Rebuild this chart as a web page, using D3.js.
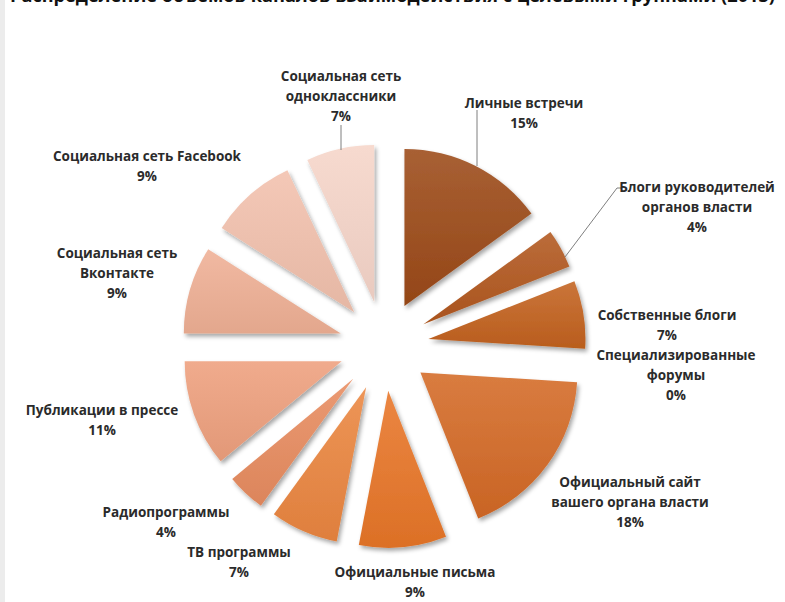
<!DOCTYPE html>
<html>
<head>
<meta charset="utf-8">
<script src="https://cdn.jsdelivr.net/npm/d3@7"></script>
<style>
  body { margin: 0; background: #fff; }
  #chart { width: 785px; height: 602px; }
  text { font-family: "Open Sans", "DejaVu Sans", sans-serif; font-weight: 700; fill: #2b2b2b; }
</style>
</head>
<body>
<div id="chart"></div>
<script>
// data
const categories = [
  ["Личные встречи"],
  ["Блоги руководителей", "органов власти"],
  ["Собственные блоги"],
  ["Специализированные", "форумы"],
  ["Официальный сайт", "вашего органа власти"],
  ["Официальные письма"],
  ["ТВ программы"],
  ["Радиопрограммы"],
  ["Публикации в прессе"],
  ["Социальная сеть", "Вконтакте"],
  ["Социальная сеть Facebook"],
  ["Социальная сеть", "одноклассники"]
];
const values = [15, 4, 7, 0, 18, 9, 7, 4, 11, 9, 9, 7];
const title = "Распределение объемов каналов взаимодействия с целевыми группами (2013)";

// styling / layout
const colors = ["#9c4a18", "#b2581f", "#c3621f", "#c8661f", "#d46a26", "#e87628",
                "#eb8640", "#e88c60", "#eea07e", "#efb095", "#f2c1ad", "#f6d5c9"];
const labelPos = [
  [524, 103], [697, 187], [667, 315], [676, 355], [630, 482], [415, 572],
  [239, 552], [166, 512], [102, 410], [117, 253], [147, 156], [341, 76]
];
const lineH = 20;

const W = 785, H = 602;
const cx = 384, cy = 346, R = 157, explode = 45;

const svg = d3.select("#chart").append("svg")
  .attr("width", W).attr("height", H);

svg.append("rect").attr("x", 0).attr("y", 0).attr("width", 5).attr("height", H).attr("fill", "#ececec");

// title is cropped at the top edge, as in the source picture
svg.append("text")
  .attr("x", 10).attr("y", 2)
  .attr("textLength", 765).attr("lengthAdjust", "spacingAndGlyphs")
  .style("font-size", "17px").style("fill", "#111")
  .text(title);

const defs = svg.append("defs");
const shadow = defs.append("filter").attr("id", "shadow")
  .attr("x", "-20%").attr("y", "-20%").attr("width", "140%").attr("height", "140%");
shadow.append("feDropShadow").attr("dx", 2).attr("dy", 3).attr("stdDeviation", 2.2)
  .attr("flood-color", "#000").attr("flood-opacity", 0.35);

colors.forEach((c, i) => {
  const g = defs.append("linearGradient").attr("id", "grad" + i)
    .attr("x1", 0).attr("y1", 0).attr("x2", 0).attr("y2", 1);
  g.append("stop").attr("offset", "0%").attr("stop-color", d3.interpolateRgb(c, "#fff")(0.12));
  g.append("stop").attr("offset", "100%").attr("stop-color", d3.color(c).darker(0.15));
});

const pie = d3.pie().sort(null).value(d => d);
const arcs = pie(values);
const arc = d3.arc().innerRadius(0).outerRadius(R);

const g = svg.append("g").attr("transform", `translate(${cx},${cy})`);

g.selectAll("path")
  .data(arcs.filter(a => a.value > 0))
  .enter()
  .append("path")
  .attr("transform", d => {
    const mid = (d.startAngle + d.endAngle) / 2;
    return `translate(${explode * Math.sin(mid)},${-explode * Math.cos(mid)})`;
  })
  .attr("d", arc)
  .attr("fill", d => `url(#grad${d.index})`)
  .attr("filter", "url(#shadow)");

// leader lines
const leaders = [
  [[477, 110], [477, 166]],
  [[622, 188], [617, 188], [565, 257]],
  [[341, 125], [341, 150]]
];
leaders.forEach(pts => {
  svg.append("path")
    .attr("d", d3.line()(pts))
    .attr("fill", "none").attr("stroke", "#7f7f7f").attr("stroke-width", 1);
});

// labels
categories.forEach((lines, i) => {
  const [x, y] = labelPos[i];
  const t = svg.append("text").attr("text-anchor", "middle").style("font-size", "13.5px");
  lines.concat([values[i] + "%"]).forEach((s, k) => {
    t.append("tspan").attr("x", x).attr("y", y + 5 + k * lineH).text(s);
  });
});
</script>
</body>
</html>
